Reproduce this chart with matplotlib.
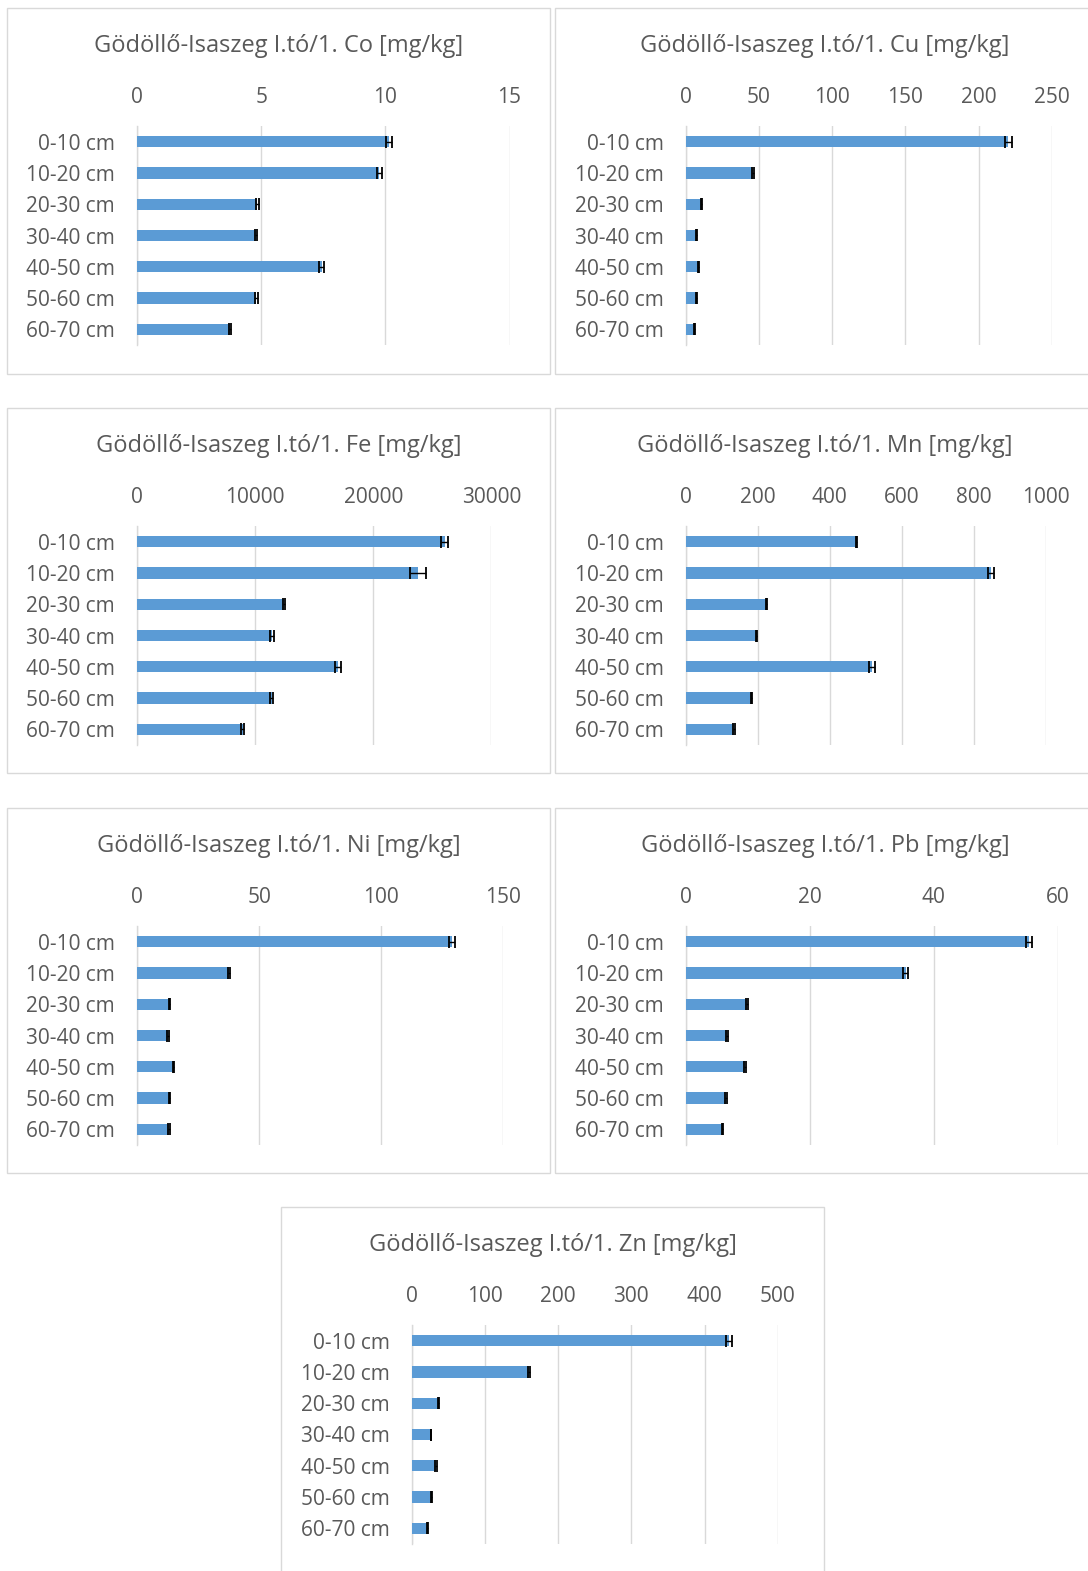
import matplotlib
matplotlib.use("Agg")
import matplotlib.pyplot as plt
from matplotlib.patches import Rectangle
import numpy as np

plt.rcParams['font.family'] = ['Open Sans', 'DejaVu Sans']

categories = ["0-10 cm", "10-20 cm", "20-30 cm", "30-40 cm", "40-50 cm", "50-60 cm", "60-70 cm"]

co_vals = [10.14, 9.76, 4.84, 4.79, 7.43, 4.80, 3.74]
co_err = [0.12, 0.10, 0.05, 0.05, 0.10, 0.05, 0.03]
cu_vals = [220.4, 46.0, 10.7, 7.3, 8.6, 7.5, 6.1]
cu_err = [2.5, 0.6, 0.5, 0.4, 0.5, 0.4, 0.3]
fe_vals = [26050, 23790, 12430, 11440, 17000, 11390, 8930]
fe_err = [320, 680, 80, 170, 250, 130, 100]
mn_vals = [474, 848, 224, 196, 518, 182, 134]
mn_err = [2, 8, 2, 2, 8, 2, 2]
ni_vals = [129.0, 37.5, 13.3, 12.5, 14.9, 13.3, 12.9]
ni_err = [1.2, 0.4, 0.3, 0.3, 0.3, 0.2, 0.3]
pb_vals = [55.4, 35.5, 9.9, 6.7, 9.5, 6.5, 5.9]
pb_err = [0.5, 0.4, 0.15, 0.15, 0.15, 0.1, 0.1]
zn_vals = [434, 160, 36.9, 26.4, 33.2, 27.6, 21.9]
zn_err = [4, 1.5, 0.8, 0.6, 0.8, 0.6, 0.6]

titles = ["Gödöllő-Isaszeg I.tó/1. Co [mg/kg]", "Gödöllő-Isaszeg I.tó/1. Cu [mg/kg]",
          "Gödöllő-Isaszeg I.tó/1. Fe [mg/kg]", "Gödöllő-Isaszeg I.tó/1. Mn [mg/kg]",
          "Gödöllő-Isaszeg I.tó/1. Ni [mg/kg]", "Gödöllő-Isaszeg I.tó/1. Pb [mg/kg]",
          "Gödöllő-Isaszeg I.tó/1. Zn [mg/kg]"]

W, H = 1088, 1571
fig = plt.figure(figsize=(W / 100, H / 100), dpi=100)
fig.patch.set_facecolor("white")

BAR = "#5b9bd5"
TXT = "#595959"
GRID = "#d9d9d9"

panels = [
    ((7, 8, 550, 374), (137.3, 509.5), 0, co_vals, co_err, 15, [0, 5, 10, 15]),
    ((555, 8, 1095, 374), (685.7, 1051.7), 0, cu_vals, cu_err, 250, [0, 50, 100, 150, 200, 250]),
    ((7, 408, 550, 773), (137.3, 491.3), 400, fe_vals, fe_err, 30000, [0, 10000, 20000, 30000]),
    ((555, 408, 1095, 773), (685.7, 1045.7), 400, mn_vals, mn_err, 1000, [0, 200, 400, 600, 800, 1000]),
    ((7, 808, 550, 1173), (137.3, 503.3), 800, ni_vals, ni_err, 150, [0, 50, 100, 150]),
    ((555, 808, 1095, 1173), (685.7, 1057.7), 800, pb_vals, pb_err, 60, [0, 20, 40, 60]),
    ((281, 1207, 824, 1580), (411.7, 777.7), 1199, zn_vals, zn_err, 500, [0, 100, 200, 300, 400, 500]),
]

for i, (box, (ax0, ax1), yo, vals, errs, xmax, ticks) in enumerate(panels):
    bx0, by0, bx1, by1 = box
    fig.patches.append(Rectangle((bx0 / W, 1 - by1 / H), (bx1 - bx0) / W, (by1 - by0) / H,
                                 transform=fig.transFigure, fill=False, edgecolor=GRID,
                                 linewidth=1.0))
    top = 126 + yo
    bot = 345 + yo
    ax = fig.add_axes([ax0 / W, 1 - bot / H, (ax1 - ax0) / W, (bot - top) / H])
    y = np.arange(len(categories))
    ax.barh(y, vals, height=0.36, color=BAR, zorder=3)
    ax.errorbar(vals, y, xerr=errs, fmt='none', ecolor='black', elinewidth=1.0,
                capsize=4, capthick=1.3, zorder=4)
    ax.set_xlim(0, xmax)
    ax.set_ylim(len(categories) - 0.5, -0.5)
    ax.set_yticks(y)
    ax.set_yticklabels(categories)
    ax.set_xticks(ticks)
    ax.set_xticklabels([str(t) for t in ticks])
    ax.xaxis.tick_top()
    ax.tick_params(axis='x', length=0, pad=13, labelsize=15, labelcolor=TXT)
    ax.tick_params(axis='y', length=0, pad=16, labelsize=15, labelcolor=TXT)
    for lbl in ax.get_yticklabels():
        lbl.set_horizontalalignment('right')
    ax.grid(axis='x', color=GRID, linewidth=1.0, zorder=0)
    for s in ["top", "right", "bottom"]:
        ax.spines[s].set_visible(False)
    ax.spines["left"].set_color(GRID)
    ax.spines["left"].set_linewidth(1.0)
    ax.set_facecolor("none")
    cx = (bx0 + bx1) / 2 if i % 2 == 0 or i == 6 else (bx0 + 1095) / 2
    if i == 6:
        cx = (bx0 + bx1) / 2
    fig.text(cx / W, 1 - (46 + yo) / H, titles[i], ha='center', va='center',
             fontsize=17, color=TXT)

fig.savefig("out.png", dpi=100)
